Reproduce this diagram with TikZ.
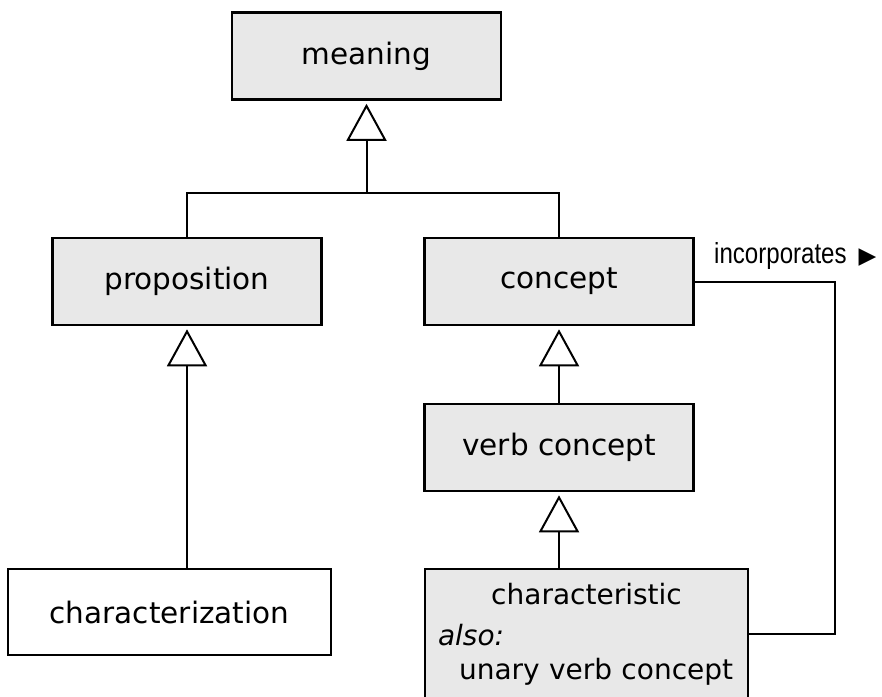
\documentclass[tikz,border=0pt]{standalone}
\usepackage{fontspec}
\setmainfont{DejaVu Sans}
\newfontfamily\narrowfont[FakeStretch=0.83]{Liberation Sans}
\newfontfamily\symfont{DejaVu Sans}
\usetikzlibrary{arrows.meta}
\definecolor{boxgray}{HTML}{E8E8E8}

\begin{document}
\begin{tikzpicture}[x=1pt, y=-1pt,
        box/.style={draw, line width=2.6pt, fill=boxgray, inner sep=0pt,
            minimum width=269pt, minimum height=87pt,
            font=\fontsize{29.5}{33}\selectfont},
        conn/.style={line width=2pt},
        isa/.style={conn, -{Triangle[open, width=40pt, length=37pt]}, shorten >=3pt}]
        \useasboundingbox (0,0) rectangle (882,696);

        % --- 1. The classes ---
        \node[box] (meaning) at (366.5,56) {meaning};
        \node[box] (proposition) at (187,281.5) {proposition};
        \node[box] (concept) at (559,281.5) {concept};
        \node[box] (verbconcept) at (559,447.5) {verb concept};
        \node[box, fill=white, minimum width=323pt, minimum height=86pt] (characterization) at (169.5,612) {characterization};
        \node[box, minimum width=323pt, minimum height=130pt, text width=323pt,
              font=\fontsize{28}{34}\selectfont] (characteristic) at (586.5,634)
            {\setlength{\parindent}{0pt}%
             \vspace*{7pt}\centering characteristic\par
             \raggedright\hspace*{13pt}\textit{also:}\par
             \hspace*{34pt}\mbox{unary verb concept}\par};

        % --- 2. Generalisation (open triangles point to the more general class) ---
        \coordinate (bar) at (366.5,193);
        \draw[conn] (proposition.north) |- (bar) -| (concept.north);
        \draw[isa] (bar) -- (meaning.south);
        \draw[isa] (characterization.north -| proposition.south) -- (proposition.south);
        \draw[isa] (verbconcept.north) -- (concept.south);
        \draw[isa] (characteristic.north -| verbconcept.south) -- (verbconcept.south);

        % --- 3. The incorporates link ---
        \coordinate (corner) at (835,281.5);
        \draw[conn] (concept.east) -- (corner) |- (characteristic.east);
        \node[anchor=west, inner sep=0pt, font=\narrowfont\fontsize{29}{33}\selectfont] (incorp) at (714,256)
            {incorporates\hspace{12pt}{\symfont\fontsize{23}{23}\selectfont ▶}};

    \end{tikzpicture}
\end{document}
